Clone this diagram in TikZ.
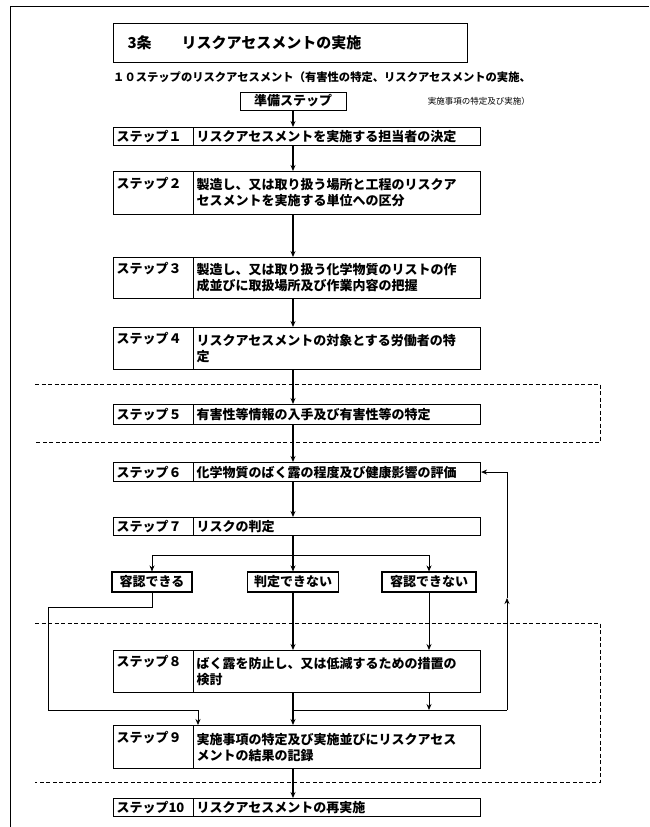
\documentclass[tikz,border=0pt]{standalone}
\usepackage{fontspec}
\setmainfont{Noto Sans CJK JP}
\usetikzlibrary{arrows.meta}

\newcommand\stepfont{\fontsize{13}{16}\selectfont\bfseries}

\begin{document}
\begin{tikzpicture}[x=1pt,y=-1pt,
  box/.style={draw,line width=1.1pt,anchor=north west,inner xsep=3pt,inner ysep=0pt,align=left,font=\stepfont},
  lab/.style={box,text width=74pt,minimum height=#1},
  txt/.style={box,text width=281pt,minimum height=#1},
  res/.style={draw,line width=1.1pt,font=\stepfont,inner sep=0pt,minimum height=20pt,minimum width=#1},
  arr/.style={line width=1.1pt,-{Stealth[length=6pt,width=5pt]}},
  thinarr/.style={line width=0.8pt,-{Stealth[length=6pt,width=5pt]}},
  zone/.style={line width=1pt,dash pattern=on 4pt off 2.5pt}]
\useasboundingbox (0,0) rectangle (649,827);

% frame
\draw[line width=0.8pt] (10,827) -- (10,6) -- (649,6);

% heading
\node[draw,line width=1pt,anchor=north west,minimum width=354pt,minimum height=39pt,
  inner xsep=14pt,text width=326pt,align=left,font=\fontsize{15}{18}\selectfont\bfseries]
  (title) at (113,23) {3条\quad\quad リスクアセスメントの実施};
\node[anchor=west,inner sep=0pt,font=\fontsize{11.3}{13}\selectfont\bfseries] (sub1) at (113,77)
  {１０ステップのリスクアセスメント（有害性の特定、リスクアセスメントの実施、};
\node[anchor=east,inner sep=0pt,font=\fontsize{8.5}{10}\selectfont] (sub2) at (530,101)
  {実施事項の特定及び実施）};
\node[draw,line width=1pt,inner sep=0pt,minimum width=106pt,minimum height=18pt,font=\stepfont]
  (junbi) at (293,101) {準備ステップ};

% steps
\node[lab=18pt] (l1) at (113,127) {ステップ１};
\node[txt=18pt] (s1) at (193,127) {リスクアセスメントを実施する担当者の決定};
\node[lab=43pt] (l2) at (113,171) {ステップ２\\\strut};
\node[txt=43pt] (s2) at (193,171) {製造し、又は取り扱う場所と工程のリスクア\\セスメントを実施する単位への区分};
\node[lab=41pt] (l3) at (113,257) {ステップ３\\\strut};
\node[txt=41pt] (s3) at (193,257) {製造し、又は取り扱う化学物質のリストの作\\成並びに取扱場所及び作業内容の把握};
\node[lab=42pt] (l4) at (113,327) {ステップ４\\\strut};
\node[txt=42pt] (s4) at (193,327) {リスクアセスメントの対象とする労働者の特\\定};
\node[lab=20pt] (l5) at (113,404) {ステップ５};
\node[txt=20pt] (s5) at (193,404) {有害性等情報の入手及び有害性等の特定};
\node[lab=19pt] (l6) at (113,462) {ステップ６};
\node[txt=19pt] (s6) at (193,462) {化学物質のばく露の程度及び健康影響の評価};
\node[lab=18pt] (l7) at (113,517) {ステップ７};
\node[txt=18pt] (s7) at (193,517) {リスクの判定};

\node[res=80pt] (r1) at (152,582) {容認できる};
\node[res=91pt] (r2) at (293,582) {判定できない};
\node[res=94pt] (r3) at (429,582) {容認できない};

\node[lab=42pt] (l8) at (113,650) {ステップ８\\\strut};
\node[txt=42pt] (s8) at (193,650) {ばく露を防止し、又は低減するための措置の\\検討};
\node[lab=43pt] (l9) at (113,725) {ステップ９\\\strut};
\node[txt=43pt] (s9) at (193,725) {実施事項の特定及び実施並びにリスクアセス\\メントの結果の記録};
\node[lab=18pt] (l10) at (113,798) {ステップ10};
\node[txt=18pt] (s10) at (193,798) {リスクアセスメントの再実施};

% dashed zones
\draw[zone] (35,384) -- (600,384) -- (600,442) -- (35,442);
\draw[zone] (35,623) -- (600,623) -- (600,782) -- (35,782);

% main flow
\coordinate (ax) at (293,0);
\draw[arr] (junbi.south) -- (junbi.south |- s1.north);
\foreach \a/\b in {s1/s2,s2/s3,s3/s4,s4/s5,s5/s6,s6/s7,s8/s9,s9/s10}
  \draw[arr] (\a.south -| ax) -- (\b.north -| ax);

% judgement branches
\coordinate (br) at (293,555);
\draw[arr] (s7.south -| ax) -- (r2.north);
\draw[line width=0.8pt] (r1.north |- br) -- (r3.north |- br);
\draw[thinarr] (r1.north |- br) -- (r1.north);
\draw[thinarr] (r3.north |- br) -- (r3.north);
\draw[arr] (r2.south) -- (r2.south |- s8.north);
\draw[thinarr] (r3.south) -- (r3.south |- s8.north);

% acceptable -> step 9
\coordinate (ok1) at (48,607);
\coordinate (ok2) at (48,710);
\coordinate (ok3) at (198,710);
\draw[line width=0.8pt] (r1.south) |- (ok1) -- (ok2) -- (ok3);
\draw[thinarr] (ok3) -- (ok3 |- s9.north);

% loop back to step 6
\coordinate (fb) at (507,710);
\coordinate (up) at (507,598);
\draw[line width=0.8pt] (ax |- fb) -- (fb);
\draw[thinarr] (s8.south -| r3.south) -- (r3.south |- fb);
\draw[thinarr] (fb) -- (up);
\draw[thinarr] (up) -- (up |- s6.east) -- (s6.east);
\end{tikzpicture}
\end{document}
